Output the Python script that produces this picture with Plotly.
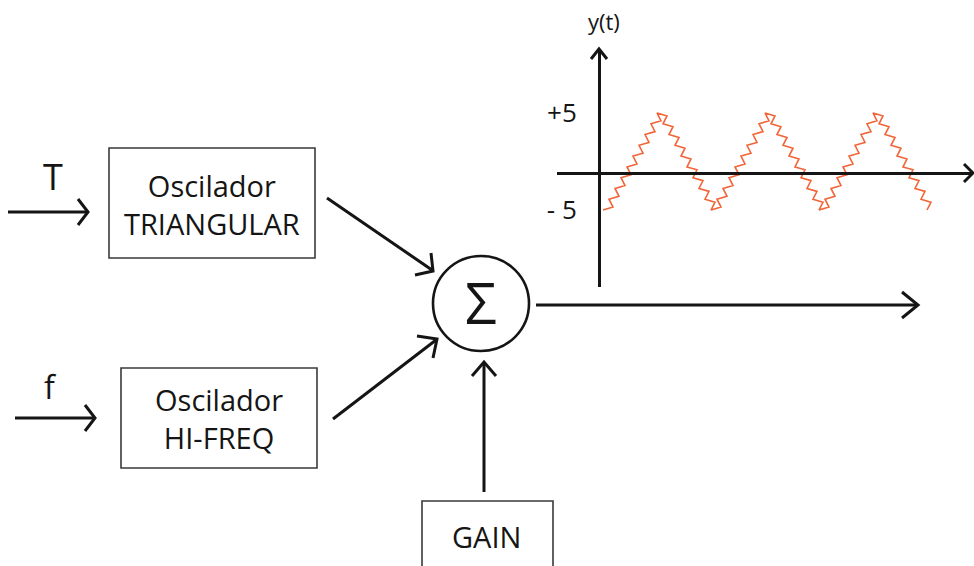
import plotly.graph_objects as go

W, H = 974, 566

# ---- data ----
# composite waveform y(t): triangle + high-frequency ripple (t in px-like time units from the y axis)
wave_t = [3,
          13, 9, 19, 15, 25, 21, 31, 27, 37, 33, 43, 39, 49, 45, 55, 51, 61, 57,
          67, 63, 73, 69, 79, 75, 85, 81, 91, 87, 97, 93, 103, 99, 109, 105, 115, 111,
          121, 117, 127, 123, 133, 129, 139, 135, 145, 141, 151, 147, 157, 153, 163, 159, 169, 165,
          175, 171, 181, 177, 187, 183, 193, 189, 199, 195, 205, 201, 211, 207, 217, 213, 223, 219,
          229, 225, 235, 231, 241, 237, 247, 243, 253, 249, 259, 255, 265, 261, 271, 267, 277, 273,
          283, 279, 289, 285, 295, 291, 301, 297, 307, 303, 313, 309, 319, 315, 325, 321, 331, 327]
wave_y = [-5.0,
          -4.7, -3.89, -3.59, -2.78, -2.48, -1.67, -1.37, -0.56, -0.26, 0.56, 0.86, 1.67, 1.97, 2.78, 3.08, 3.89, 4.19, 5.0,
          4.7, 3.89, 3.59, 2.78, 2.48, 1.67, 1.37, 0.56, 0.26, -0.56, -0.86, -1.67, -1.97, -2.78, -3.08, -3.89, -4.19, -5.0,
          -4.7, -3.89, -3.59, -2.78, -2.48, -1.67, -1.37, -0.56, -0.26, 0.56, 0.86, 1.67, 1.97, 2.78, 3.08, 3.89, 4.19, 5.0,
          4.7, 3.89, 3.59, 2.78, 2.48, 1.67, 1.37, 0.56, 0.26, -0.56, -0.86, -1.67, -1.97, -2.78, -3.08, -3.89, -4.19, -5.0,
          -4.7, -3.89, -3.59, -2.78, -2.48, -1.67, -1.37, -0.56, -0.26, 0.56, 0.86, 1.67, 1.97, 2.78, 3.08, 3.89, 4.19, 5.0,
          4.7, 3.89, 3.59, 2.78, 2.48, 1.67, 1.37, 0.56, 0.26, -0.56, -0.86, -1.67, -1.97, -2.78, -3.08, -3.89, -4.19, -5.0]
level_vals = [5, -5]
level_labels = ["+5", "- 5"]
axis_title = "y(t)"
input_labels = ["T", "f"]
block1_label = "Oscilador<br>TRIANGULAR"
block2_label = "Oscilador<br>HI-FREQ"
gain_label = "GAIN"
sum_symbol = "Σ"

FONT = "Open Sans"
INK = "#151515"
WAVE = "#F26539"

fig = go.Figure()
# invisible anchor trace for the diagram coordinate system
fig.add_trace(go.Scatter(x=[0, W], y=[0, H], mode="markers", marker=dict(opacity=0),
                         hoverinfo="skip", showlegend=False))
fig.add_trace(go.Scatter(x=wave_t, y=wave_y, xaxis="x2", yaxis="y2", mode="lines",
                         line=dict(color=WAVE, width=1.6), hoverinfo="skip", showlegend=False))

shapes = []


def line(x0, y0, x1, y1, w=3, c=INK):
    shapes.append(dict(type="line", xref="x", yref="y", x0=x0, y0=y0, x1=x1, y1=y1,
                       line=dict(color=c, width=w)))


def path(d, w=3, c=INK):
    shapes.append(dict(type="path", xref="x", yref="y", path=d, line=dict(color=c, width=w)))


def rect(x0, y0, x1, y1):
    shapes.append(dict(type="rect", xref="x", yref="y", x0=x0, y0=y0, x1=x1, y1=y1,
                       line=dict(color="#3a3a3a", width=1.6)))


# input arrows
line(8, 212, 87, 212)
path("M 78 199 L 88 212 L 78 225")
line(15, 418, 94, 418)
path("M 85 405 L 95 418 L 85 431")
# blocks
rect(109, 148, 315, 258)
rect(121, 368, 317, 468)
rect(422, 501, 553, 590)
# arrows into the summer
line(327, 198, 432, 270)
path("M 431 253 L 433 271 L 415 275")
line(333, 419, 436, 340)
path("M 417 336 L 437 339 L 433 358")
line(484, 492, 484, 364)
path("M 472 376 L 484 362 L 496 376")
# summer circle
shapes.append(dict(type="circle", xref="x", yref="y", x0=433, y0=256, x1=529, y1=351,
                   line=dict(color=INK, width=2.6)))
# output arrow
line(536, 305, 917, 305)
path("M 902 292 L 918 305 L 902 318")
# chart axis arrowheads
path("M 591 59 L 599 49 L 607 59")
path("M 964 164 L 973 173 L 964 182")

ann = []


def text(x, y, s, size, color=INK):
    ann.append(dict(x=x, y=y, xref="x", yref="y", text=s, showarrow=False,
                    font=dict(family=FONT, size=size, color=color),
                    xanchor="center", yanchor="middle"))


text(53, 176, input_labels[0], 36)
text(50, 386, input_labels[1], 32)
text(212, 204, block1_label, 29)
text(219, 418, block2_label, 29)
text(486, 536, gain_label, 29)
text(481, 302, sum_symbol, 56)
text(604, 21, axis_title, 22)

fig.update_layout(
    width=W, height=H,
    margin=dict(l=0, r=0, t=0, b=0),
    paper_bgcolor="white", plot_bgcolor="white",
    showlegend=False,
    xaxis=dict(range=[0, W], domain=[0, 1], visible=False, fixedrange=True),
    yaxis=dict(range=[H, 0], domain=[0, 1], visible=False, fixedrange=True),
    xaxis2=dict(domain=[557 / W, 973 / W], range=[-43, 373], anchor="free",
                position=1 - 173 / H, showline=True, linecolor=INK, linewidth=3,
                showticklabels=False, ticks="", showgrid=False, zeroline=False),
    yaxis2=dict(domain=[1 - 287 / H, 1 - 49 / H], range=[-12.94, 11.6], anchor="free",
                position=599 / W, showline=True, linecolor=INK, linewidth=3,
                tickvals=level_vals, ticktext=level_labels, ticks="",
                showgrid=False, zeroline=False, ticklabelstandoff=16,
                tickfont=dict(family=FONT, size=26, color=INK)),
    shapes=shapes,
    annotations=ann,
)

fig.write_html("out.html",
               config={"displayModeBar": False},
               post_script="document.body.style.margin='0px';document.body.style.overflow='hidden';")
